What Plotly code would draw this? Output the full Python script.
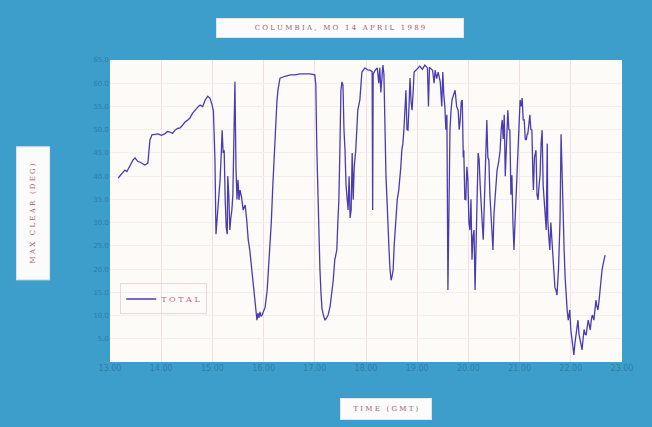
import plotly.graph_objects as go

# ---- data ----
time_gmt = [
    13.16,13.22,13.29,13.33,13.39,13.45,13.49,13.54,13.59,13.64,13.68,13.74,13.76,13.78,13.82,13.88,13.94,14.00,14.07,14.12,
    14.17,14.22,14.27,14.32,14.37,14.42,14.46,14.51,14.56,14.61,14.66,14.71,14.76,14.81,14.86,14.91,14.95,14.99,15.02,
    15.05,15.07,15.09,15.11,15.13,15.15,15.17,15.19,15.21,15.23,15.25,15.27,15.29,15.30,15.32,15.34,15.36,15.38,15.40,15.42,
    15.44,15.46,15.48,15.50,15.52,15.54,15.57,15.60,15.64,15.67,15.70,15.73,15.77,15.80,15.83,15.85,15.87,15.89,15.91,15.93,
    15.95,15.97,16.00,16.03,16.07,16.11,16.15,16.18,16.21,16.24,16.26,16.28,16.32,16.42,16.52,16.62,16.71,16.81,16.91,17.00,17.02,
    17.04,17.06,17.08,17.10,17.12,17.14,17.17,17.20,17.23,17.26,17.30,17.33,17.36,17.39,17.43,17.45,17.47,17.49,17.51,17.53,
    17.55,17.57,17.59,17.61,17.63,17.65,17.67,17.69,17.71,17.73,17.75,17.77,17.80,17.84,17.88,17.90,17.92,17.98,18.04,18.08,
    18.12,18.13,18.14,18.18,18.22,18.25,18.27,18.29,18.31,18.33,18.35,
    18.37,18.39,18.41,18.43,18.45,18.47,18.49,18.51,18.53,18.55,18.57,18.59,18.61,18.64,18.66,18.68,18.70,18.72,18.74,18.76,
    18.78,18.80,18.82,18.84,18.86,18.88,18.90,18.92,18.94,19.02,19.05,19.10,19.15,19.20,19.22,19.24,19.25,19.30,19.33,19.35,
    19.38,19.41,19.45,19.48,19.50,19.52,19.54,19.56,19.58,19.60,19.62,19.64,19.66,19.68,19.71,19.74,19.77,19.80,19.82,19.84,
    19.86,19.88,19.90,19.91,19.93,19.95,19.97,19.99,20.01,20.03,20.05,20.07,20.09,20.11,20.13,20.15,20.17,20.19,20.21,20.23,
    20.25,20.27,20.29,20.31,20.32,20.34,20.36,20.38,20.40,20.42,20.44,20.46,20.48,20.50,20.52,20.54,20.56,20.59,20.62,20.64,
    20.66,20.68,20.70,20.72,20.73,20.75,20.77,20.79,20.81,20.83,20.85,20.87,20.89,20.91,20.93,20.95,20.97,20.99,21.01,21.03,
    21.05,21.07,21.09,21.11,21.13,21.15,21.16,21.18,21.20,21.22,21.24,21.26,21.27,21.29,21.32,21.34,21.36,21.38,21.40,21.42,
    21.44,21.46,21.48,21.50,21.52,21.54,21.55,21.57,21.59,21.61,21.63,21.65,21.67,21.69,21.71,21.73,21.76,21.79,21.81,21.83,
    21.85,21.87,21.89,21.91,21.93,21.95,21.97,21.98,22.00,22.02,22.04,22.06,22.08,22.10,22.12,22.14,22.16,22.18,22.20,22.22,
    22.24,22.26,22.28,22.30,22.32,22.34,22.36,22.38,22.40,22.42,22.44,22.45,22.47,22.49,22.51,22.53,22.55,22.57,22.59,22.61,
    22.63,22.65,22.67,
]
max_clear_deg = [
    39.6,40.5,41.3,41.0,42.4,43.5,43.9,43.2,43.0,42.6,42.4,42.8,46.0,47.8,48.9,49.0,49.1,48.8,49.1,49.6,
    49.5,49.2,49.9,50.3,50.4,51.0,51.6,52.0,52.5,53.5,54.2,54.8,55.3,55.0,56.4,57.2,56.8,55.5,54.0,
    43.5,27.5,30.5,31.6,36.0,39.2,44.0,49.9,45.0,45.6,34.9,29.0,27.5,40.0,36.0,28.4,31.0,32.7,36.0,50.0,
    60.3,42.0,35.0,39.2,34.9,37.0,35.5,32.7,33.8,30.6,26.3,24.1,19.8,16.0,13.3,10.1,9.0,10.5,9.5,10.8,
    9.8,10.1,11.2,11.8,15.5,22.0,30.0,38.0,45.6,52.1,56.0,58.5,61.1,61.5,61.8,61.8,62.0,62.0,62.0,61.8,59.6,
    45.6,34.9,28.0,20.0,15.0,11.5,10.0,9.0,9.5,10.1,12.0,14.4,17.6,22.0,24.1,30.0,34.9,45.6,58.5,60.3,
    59.6,50.0,45.6,38.0,34.9,32.7,40.0,31.0,32.7,45.0,34.9,42.0,45.6,54.2,56.4,60.0,62.4,63.3,62.8,62.8,
    62.5,32.7,62.0,62.8,63.3,60.0,63.3,58.0,61.8,63.9,62.0,
    49.9,40.0,34.9,28.0,24.1,19.8,17.6,18.5,19.8,25.0,28.4,32.7,34.9,37.0,39.2,42.0,45.6,47.0,49.9,55.0,
    58.5,50.0,49.9,55.0,61.1,56.0,54.2,58.0,62.4,63.3,63.7,63.0,63.9,63.3,55.0,63.5,63.3,62.8,60.0,62.8,
    61.0,62.4,60.3,55.0,62.4,57.5,55.0,50.0,53.2,15.5,42.0,49.9,54.0,56.4,57.5,58.5,55.0,54.2,50.0,52.1,
    56.0,56.4,44.0,45.6,35.0,34.9,42.0,39.2,30.0,28.4,35.0,22.0,27.0,28.4,15.5,30.0,34.9,45.0,43.5,38.0,
    34.9,30.0,26.3,33.0,39.2,46.0,52.1,44.0,43.5,36.0,32.7,28.0,24.1,32.0,34.9,38.0,41.3,43.0,45.6,50.0,
    52.1,48.0,53.2,40.0,43.5,52.0,54.2,50.0,49.9,36.0,40.2,30.0,24.1,30.0,34.9,42.0,47.8,52.0,56.4,55.0,
    56.8,52.1,52.1,48.0,47.8,49.1,49.1,51.0,53.2,50.0,49.9,40.0,37.0,44.0,45.6,36.0,34.9,38.0,40.2,47.0,
    49.9,38.0,34.9,30.0,28.4,47.0,30.6,27.0,24.1,30.0,26.3,22.0,19.8,16.0,15.5,14.4,20.0,30.6,49.0,39.2,
    30.0,24.1,18.0,13.3,11.0,9.0,10.0,11.2,7.0,4.7,3.0,1.5,4.0,5.8,8.0,9.0,6.0,4.7,3.0,2.6,
    5.0,7.0,6.0,5.8,7.5,9.0,8.0,6.9,9.0,10.1,9.5,9.0,11.0,13.3,12.0,11.2,13.0,15.5,17.0,19.8,
    21.0,22.0,23.0,
]
x_ticks = [13, 14, 15, 16, 17, 18, 19, 20, 21, 22, 23]
x_tick_labels = ["13.00", "14.00", "15.00", "16.00", "17.00", "18.00", "19.00", "20.00", "21.00", "22.00", "23.00"]
y_ticks = [5, 10, 15, 20, 25, 30, 35, 40, 45, 50, 55, 60, 65]
y_tick_labels = ["5.0", "10.0", "15.0", "20.0", "25.0", "30.0", "35.0", "40.0", "45.0", "50.0", "55.0", "60.0", "65.0"]

title_text = "C O L U M B I A ,   M O   1 4   A P R I L   1 9 8 9"
ylabel_text = "M A X   C L E A R   ( D E G )"
xlabel_text = "T I M E   ( G M T )"
legend_text = "T O T A L"

BLUE_BG = "#3d9ecb"
LINE = "#4a3cb0"
TEXT = "#a06070"
TICK = "rgba(20,70,110,0.40)"

fig = go.Figure()
fig.add_trace(go.Scatter(
    x=time_gmt, y=max_clear_deg, mode="lines", name=legend_text,
    line=dict(color=LINE, width=1.3),
))

fig.update_layout(
    width=652, height=427,
    margin=dict(l=102, r=38, t=52, b=73),
    paper_bgcolor=BLUE_BG,
    plot_bgcolor="#fdfbf8",
    font=dict(family="DejaVu Sans", size=8, color=TICK),
    showlegend=True,
    legend=dict(
        x=0.02, y=0.26, xanchor="left", yanchor="top",
        bgcolor="rgba(0,0,0,0)", bordercolor="#ecd6e0", borderwidth=1,
        itemwidth=30,
        font=dict(family="DejaVu Serif", size=8, color="#c06890"),
    ),
    xaxis=dict(
        range=[13, 23], tickvals=x_ticks, ticktext=x_tick_labels,
        showgrid=True, gridcolor="#efe0e6", gridwidth=1,
        zeroline=False, showline=False, ticks="",
        tickfont=dict(size=8, color=TICK),
    ),
    yaxis=dict(
        range=[0, 65], tickvals=y_ticks, ticktext=y_tick_labels,
        showgrid=True, gridcolor="#f4eeee", gridwidth=1,
        zeroline=False, showline=False, ticks="",
        tickfont=dict(size=7, color=TICK),
    ),
    annotations=[
        dict(text=title_text, xref="paper", yref="paper", x=0.449, y=1.106,
             showarrow=False, xanchor="center", yanchor="middle",
             width=244, height=16, bgcolor="#fbfbfb", bordercolor="#e4e4e4", borderwidth=1,
             font=dict(family="DejaVu Serif", size=7, color=TEXT)),
        dict(text=ylabel_text, xref="paper", yref="paper", x=-0.150, y=0.493,
             showarrow=False, xanchor="center", yanchor="middle", textangle=-90,
             width=130, height=30, bgcolor="#fbfbfb", bordercolor="#e4e4e4", borderwidth=1,
             font=dict(family="DejaVu Serif", size=7, color=TEXT)),
        dict(text=xlabel_text, xref="paper", yref="paper", x=0.539, y=-0.156,
             showarrow=False, xanchor="center", yanchor="middle",
             width=88, height=18, bgcolor="#fbfbfb", bordercolor="#e4e4e4", borderwidth=1,
             font=dict(family="DejaVu Serif", size=7, color=TEXT)),
    ],
)

fig.write_html("out.html", post_script="document.body.style.background='" + BLUE_BG + "';")
